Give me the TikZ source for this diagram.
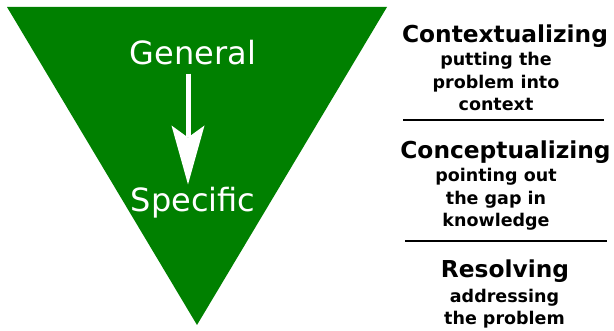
\documentclass[tikz,border=0pt]{standalone}
\usepackage{fontspec}
\setmainfont{DejaVu Sans}
\usetikzlibrary{arrows.meta}

\definecolor{verde}{HTML}{008000}

\begin{document}
\begin{tikzpicture}[x=1pt, y=-1pt,
    every node/.style={inner sep=0pt},
    grande/.style={text=white, font=\fontsize{32}{38}\selectfont, anchor=base},
    titulo/.style={font=\bfseries\fontsize{23.3}{28}\selectfont, anchor=base},
    detalle/.style={font=\bfseries\fontsize{17.5}{22.8}\selectfont, align=center, anchor=base},
    raya/.style={line width=2pt}]
            \useasboundingbox (0,0) rectangle (614,331);

            % Triangulo
            \fill[verde] (7,7) -- (387,7) -- (197,325) -- cycle;

            % Nodos
            \node[grande] (general) at (193,65) {General};
            \node[grande] (specific) at (193,212) {Specific};

            % (la base de un bloque es la de su ultima linea)
            \node[titulo] (contextualizing) at (505,43) {Contextualizing};
            \node[detalle] (contextualizingtxt) at (496,111) {putting the\\problem into\\context};
            \node[titulo] (conceptualizing) at (505.5,159) {Conceptualizing};
            \node[detalle] (conceptualizingtxt) at (496,227) {pointing out\\the gap in\\knowledge};
            \node[titulo] (resolving) at (505,278) {Resolving};
            \node[detalle] (resolvingtxt) at (504.5,325) {addressing\\the problem};

            % Flecha
            \draw[white, line width=5pt, -{Stealth[length=59pt, width=33pt, inset=12pt, line width=0pt]},
                  shorten <=8pt, shorten >=3pt] ([xshift=-5pt]general.south) -- ([xshift=-5pt]specific.north);

            % Separadores
            \draw[raya] (403,120) -- (604,120);
            \draw[raya] (405,241) -- (607,241);
          \end{tikzpicture}
\end{document}
